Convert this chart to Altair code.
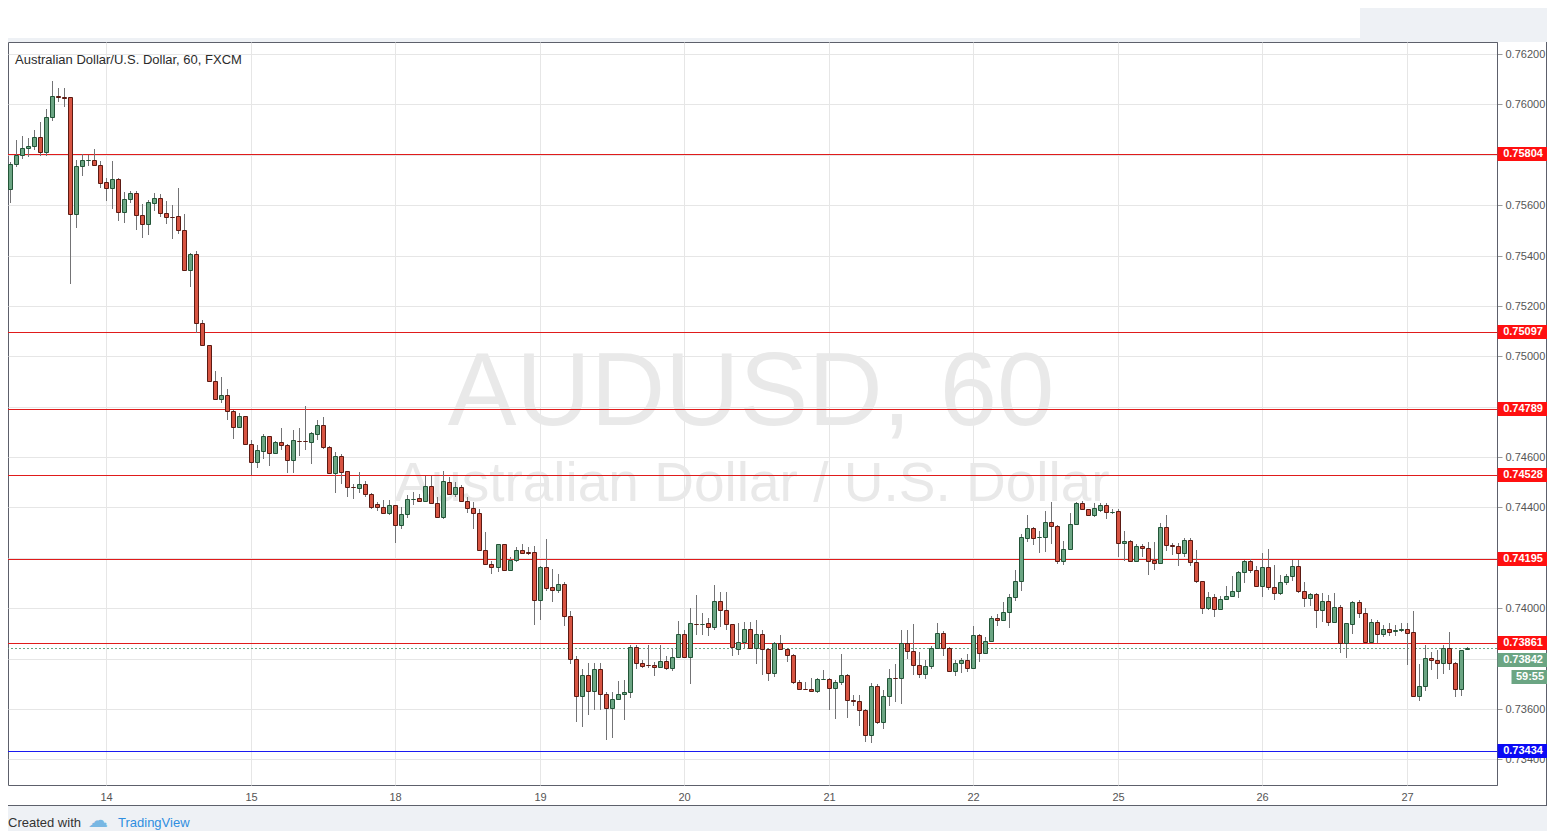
import altair as alt
import pandas as pd

# ---- hourly candles (prices in pips, i.e. price * 10000) ----
OPEN = [7566.6,7576.3,7580.1,7582.8,7583.4,7587.2,7581,7595.2,7603.3,7603,
        7602.8,7556.7,7575.7,7578,7578,7576,7569.3,7567,7570.3,7557.4,
        7562.3,7564.7,7556.3,7552.7,7561,7562.8,7557.1,7555.5,7555.8,7550.1,
        7534.3,7540.6,7513.1,7504.3,7490.2,7483.2,7484.8,7478.2,7472,7476.2,
        7465.3,7458.1,7462.4,7468.3,7461.6,7465.9,7464.6,7459,7466.5,7466.3,
        7465.9,7469.2,7472.9,7463.9,7453.8,7460.3,7454.3,7448.3,7447.9,7449.2,
        7445.5,7441.3,7440.3,7437.6,7440.8,7432.9,7437.2,7443.3,7443.7,7442.6,
        7448.4,7441.6,7436.1,7450.2,7445.2,7448,7442.7,7439.6,7437.6,7423.3,
        7417.7,7416.3,7425.4,7415.3,7419.3,7423.3,7422.2,7422.2,7403.3,7416.3,
        7408.4,7407.3,7409.7,7396.8,7380,7365,7373.5,7367.3,7375.8,7366,
        7360.3,7363.8,7365.8,7366.6,7384.5,7378.1,7377.4,7377.5,7376.8,7379.1,
        7376.2,7380.5,7389.7,7380.5,7393.8,7393.7,7394,7392.7,7402.9,7399.2,
        7393.6,7383.9,7386.5,7391.8,7384.3,7389.8,7383.9,7374.4,7386.3,7383.9,
        7381.6,7370.8,7367.9,7368,7367.1,7371.9,7371.9,7368.2,7370.6,7373.5,
        7363.7,7363.3,7359.7,7349.5,7369.2,7354.7,7365.3,7372.4,7372.3,7386.1,
        7383.1,7377.6,7374,7377.2,7384.2,7390.1,7384.2,7374.9,7378.2,7379.5,
        7376.2,7389.4,7382.2,7387.1,7396.3,7395.4,7398.3,7404.4,7410.8,7427.9,
        7431.8,7428.1,7428.2,7434.1,7432.8,7418.7,7423.6,7433.4,7441.7,7439.3,
        7437,7438.9,7441.1,7438.2,7438.4,7425.9,7426.6,7418.7,7424.6,7423.9,
        7419.2,7417.9,7432.4,7425.2,7424.5,7422.1,7427.2,7418.3,7410.6,7400,
        7404.4,7399.6,7403.6,7404.9,7406.9,7414.2,7418.8,7415.2,7409,7416.3,
        7408.6,7406,7410.3,7412.8,7416.8,7407,7404,7405.6,7399.1,7402.9,
        7394.7,7400.4,7386,7393.6,7402.4,7398,7386.7,7394.4,7389.6,7391.6,
        7391,7391.5,7391.6,7390.4,7365.1,7369.1,7380.4,7379.6,7378.3,7384,
        7378.4,7368,7383.6]
HIGH = [7577,7585.7,7587.3,7586.6,7590,7593,7598,7609.4,7606.4,7606.4,
        7603,7578,7580.3,7580,7582.4,7577.7,7571,7577.7,7571,7565.2,
        7565.5,7565.6,7560.3,7562,7565,7564.6,7561.7,7560,7566.7,7556.4,
        7541,7541.9,7514.5,7504.6,7494.2,7491.8,7487.1,7478.5,7477.5,7476.5,
        7466.9,7464.7,7469.3,7468.5,7466.4,7471.7,7465,7470.6,7471.7,7480.4,
        7469.9,7474.7,7476,7464.2,7462,7461.3,7454.6,7449.5,7454.1,7450.5,
        7445.7,7442.1,7442.9,7442.9,7441,7440.3,7445.1,7446.2,7445.5,7452.4,
        7452.4,7444.2,7454.5,7452.2,7450.2,7448.9,7444.3,7442,7439.2,7430.3,
        7418.7,7425.4,7425.6,7420.3,7424.3,7425.4,7424.3,7424.6,7416.6,7427.5,
        7415.7,7413.7,7410.4,7398.9,7381,7376,7378.1,7378.1,7378.1,7366.9,
        7366.6,7371.1,7371.5,7385.4,7385.2,7379.5,7385.2,7378.8,7385.2,7381.2,
        7384.1,7395,7391.4,7400,7405.3,7398,7396,7409.3,7406.6,7406.6,
        7393.8,7394,7394.6,7394.4,7395.3,7391.4,7384.2,7386.5,7389.2,7384.2,
        7381.8,7371.5,7370.8,7372.2,7372.2,7375.4,7372.2,7371.5,7381.7,7373.8,
        7365.6,7365.6,7360,7370.2,7369.9,7367.4,7375.8,7378,7391.4,7391.4,
        7393.8,7382.8,7379.5,7385.1,7394.3,7390.8,7384.5,7379.3,7380.2,7381.9,
        7393,7389.6,7388.5,7397,7397.8,7402.6,7405.7,7415.2,7429.4,7437.1,
        7432.4,7430.8,7438.7,7442,7433,7426.8,7437.6,7442,7442.6,7439.4,
        7441.6,7441.6,7441.6,7439.3,7439.3,7430.8,7427,7425.5,7425.5,7426.2,
        7426.2,7433.7,7437.1,7426,7425.8,7428,7428,7423.2,7410.8,7406.6,
        7405.7,7404.9,7408.9,7412.6,7414.6,7419.2,7419.5,7416.6,7421.9,7423.4,
        7417.2,7413.2,7413.6,7419.2,7419.2,7410.3,7406.2,7406,7406,7405.3,
        7406,7401.3,7394.3,7402.7,7403.3,7400,7395.6,7395.3,7393.3,7394,
        7393.3,7394,7394.3,7398.7,7377.7,7385.3,7382.7,7383.3,7385.3,7390.7,
        7378.7,7383.5,7384.5]
LOW = [7561,7575,7578.3,7579,7582,7579.7,7579.7,7593.3,7600.8,7599,
       7528.9,7551,7571.7,7575.7,7575.7,7567,7561.6,7558.6,7553.6,7553,
       7561,7550.3,7547,7548.3,7557.6,7555.4,7552.7,7546.5,7548.5,7534,
       7527.4,7509.2,7504,7489.8,7483,7481.5,7474.9,7467.3,7471.7,7465,
       7452.8,7455.8,7459.4,7456.4,7461.4,7462.7,7453.5,7453.7,7460.4,7462.7,
       7457.4,7466.8,7463.3,7453.7,7445.8,7449.2,7444.2,7443.4,7445.8,7444.2,
       7439.2,7438.7,7437.4,7437,7426,7431.4,7435.7,7440.9,7442.2,7442.2,
       7441.3,7435.7,7435.3,7444.9,7444,7442.3,7437.6,7431.4,7423,7417.4,
       7413.7,7414.4,7415,7415,7418.3,7421.9,7421,7393.5,7395.5,7407,
       7402.4,7406,7393.1,7378,7355,7353,7357.6,7359.6,7359.6,7347.7,
       7348.3,7363.6,7355.6,7364.5,7375.8,7376.2,7376.2,7373.2,7376.4,7375.5,
       7375.1,7380.4,7380.3,7369.8,7389.4,7389.4,7389.1,7391.4,7392.7,7391.4,
       7381.2,7381.3,7384.2,7383.9,7377.8,7373.5,7371.2,7372.5,7383.5,7378.7,
       7369.9,7367.6,7367.6,7366.9,7366.5,7371.5,7359.5,7356.1,7369.5,7356.5,
       7361,7353.2,7346.7,7346.4,7353.9,7352.1,7361.3,7362.6,7362.1,7379.8,
       7373.6,7372.3,7371.9,7375.8,7384.2,7380.9,7374.6,7373.2,7374.3,7374.5,
       7376,7378.5,7381.9,7386.8,7393,7395.1,7392.3,7403,7407,7426.2,
       7424.9,7421.8,7422.2,7425.5,7417.6,7417,7423.2,7433.4,7439,7436.7,
       7436.1,7438,7435.4,7437.4,7420.3,7418.9,7418.4,7418.3,7420.5,7413,
       7415.3,7417.6,7422.9,7421.2,7416.6,7420.5,7416.6,7410.2,7397.7,7399.3,
       7396.7,7399.1,7403.3,7404.6,7404,7410.2,7413.9,7408.6,7404.6,7407.3,
       7403.3,7405.3,7409.3,7410.6,7406.2,7400.3,7400.7,7392,7394.7,7392.9,
       7394.5,7382.3,7380.3,7389.6,7396,7386,7386.4,7386,7388.5,7388.9,
       7388.9,7390.7,7377.3,7364.9,7363.3,7367.3,7375.3,7372,7374,7375.3,
       7364.7,7365.3,7383.3]
CLOSE = [7576.3,7580.1,7582.8,7583.7,7587.2,7581,7595.2,7603.2,7603.1,7602.5,
         7556.7,7575.7,7578,7578.1,7576,7569,7567,7570.3,7557.4,7562.3,
         7564.7,7556.3,7552.7,7561.2,7562.7,7557.1,7555.4,7555.3,7550.1,7534.3,
         7540.6,7513.1,7504.3,7490.2,7483.2,7484.8,7478.2,7472,7476.2,7465.3,
         7458.1,7462.7,7468.3,7461.6,7466,7464.6,7459,7466.7,7466.2,7466.2,
         7469.5,7472.9,7463.9,7453.8,7460.3,7454.1,7448.2,7448.1,7449.2,7445.5,
         7440.3,7440.3,7437.6,7440.8,7432.9,7437.4,7443.3,7443.5,7442.6,7448.4,
         7441.6,7436.1,7450.4,7445.2,7448,7442.7,7439.6,7437.6,7423.3,7417.7,
         7416.3,7425.4,7415.3,7419.3,7423.3,7422.1,7422.1,7403.3,7416.3,7408.1,
         7407.3,7409.7,7396.8,7380,7365,7373.5,7367.3,7375.8,7365.8,7360.3,
         7363.8,7366,7366.6,7384.5,7378.1,7377.2,7377.3,7376.8,7379.1,7376.2,
         7380.5,7389.7,7380.5,7394,7393.7,7393.8,7392.7,7402.9,7399.2,7393.6,
         7384.4,7386.5,7391.8,7384.3,7389.8,7383.9,7374.4,7386.3,7383.9,7381.6,
         7370.8,7367.8,7367.8,7367.1,7371.9,7372,7368.2,7370.6,7373.5,7363.7,
         7363,7359.7,7349.5,7369.2,7354.8,7365.3,7372.3,7372.2,7386.1,7383.1,
         7377.6,7374,7377.2,7384.2,7390.1,7384.2,7374.9,7378.2,7379.5,7376.2,
         7389.4,7382.2,7387.1,7396,7395.4,7398.3,7404.4,7410.8,7428.1,7431.8,
         7427.9,7428.2,7434.1,7432.5,7418.7,7423.6,7433.4,7441.6,7439.3,7437,
         7439.7,7441.1,7438,7438.3,7425.9,7426.6,7418.7,7424.6,7423.9,7418.7,
         7417.9,7432.4,7424.9,7424.5,7422.1,7427.2,7418.3,7410.6,7400,7404.4,
         7399.6,7403.6,7404.9,7406.9,7414.2,7418.8,7415.2,7409,7416.3,7408.6,
         7406,7410.3,7412.8,7416.8,7407,7404,7405.6,7399.2,7402.9,7394.7,
         7400.4,7386,7394,7402.4,7398,7386.7,7394.4,7389.6,7391.6,7390.7,
         7391.2,7391.6,7390.3,7365.1,7369.1,7380.4,7379.6,7378.3,7384,7378.3,
         7368,7383.3,7384.2]

DAY_TICKS = [16, 40, 64, 88, 112, 136, 160, 184, 208, 232]
DAY_LABELS = ["14", "15", "18", "19", "20", "21", "22", "25", "26", "27"]
PRICE_TICKS = [0.734, 0.736, 0.738, 0.740, 0.742, 0.744, 0.746, 0.748,
               0.750, 0.752, 0.754, 0.756, 0.758, 0.760, 0.762]
RESIST = [0.75804, 0.75097, 0.74789, 0.74528, 0.74195, 0.73861]
SUPPORT = [0.73434]
LAST = [0.73842]
COUNTDOWN = ["59:55"]
TITLE = "Australian Dollar/U.S. Dollar, 60, FXCM"
WATERMARK = "AUDUSD, 60"
WATERMARK_SUB = "Australian Dollar / U.S. Dollar"

# ---- styling ----
W, H = 1489, 743
UP_FILL, DN_FILL = "#6ba583", "#d75442"
UP_EDGE, DN_EDGE = "#225437", "#5b1a13"
WICK = "#737375"
GRID = "#e6e6e6"
FONT = "Liberation Sans"
PAGE_BG = "#eef1f5"
LEVEL_RED = "#e01b1b"

n = len(OPEN)
df = pd.DataFrame({
    "i": list(range(n)),
    "open": [v / 10000 for v in OPEN],
    "high": [v / 10000 for v in HIGH],
    "low": [v / 10000 for v in LOW],
    "close": [v / 10000 for v in CLOSE],
})
df["dir"] = ["up" if c >= o else "down" for o, c in zip(df["open"], df["close"])]
df["blo"] = df[["open", "close"]].min(axis=1)
df["bhi"] = df[["open", "close"]].max(axis=1)

xs = alt.Scale(domain=[-0.3, 247.0], nice=False, zero=False, round=True, padding=0)
ys = alt.Scale(domain=[0.73298, 0.76248], nice=False, zero=False, round=True, padding=0)

label_expr = "[" + ",".join("'%s'" % s for s in DAY_LABELS) + "][indexof([" + \
    ",".join(str(t) for t in DAY_TICKS) + "], datum.value)]"

x_axis = alt.Axis(values=DAY_TICKS, labelExpr=label_expr, grid=True, gridColor=GRID,
                  domain=False, ticks=False, labelPadding=6, labelFontSize=11,
                  labelColor="#555555", labelFont=FONT, title=None)
y_axis = alt.Axis(orient="right", values=PRICE_TICKS, format=".5f", grid=True,
                  gridColor=GRID, domain=True, domainColor="#5d606b", tickColor="#9a9a9a",
                  tickSize=5, labelPadding=3, labelFontSize=11, labelColor="#555555",
                  labelFont=FONT, title=None)

X = alt.X("i:Q", scale=xs, axis=x_axis)

dir_fill = alt.Fill("dir:N", scale=alt.Scale(domain=["up", "down"], range=[UP_FILL, DN_FILL]), legend=None)
dir_stroke = alt.Stroke("dir:N", scale=alt.Scale(domain=["up", "down"], range=[UP_EDGE, DN_EDGE]), legend=None)

one = pd.DataFrame({"t": [""]})

# gray page regions outside the white chart panel
gray_footer = alt.Chart(one).mark_rect(color=PAGE_BG).encode(
    x=alt.value(0), x2=alt.value(W + 50), y=alt.value(H + 21), y2=alt.value(H + 60))
gray_gap = alt.Chart(one).mark_rect(color=PAGE_BG).encode(
    x=alt.value(0), x2=alt.value(W + 50), y=alt.value(-4), y2=alt.value(0))
gray_topright = alt.Chart(one).mark_rect(color=PAGE_BG).encode(
    x=alt.value(1352), x2=alt.value(W + 50), y=alt.value(-40), y2=alt.value(0))
panel_bottom = alt.Chart(one).mark_rule(color="#5d606b", strokeWidth=1).encode(
    x=alt.value(0), x2=alt.value(W + 50), y=alt.value(H + 20.5))
panel_right = alt.Chart(one).mark_rule(color="#5d606b", strokeWidth=1).encode(
    x=alt.value(W + 49.5), y=alt.value(0), y2=alt.value(H + 21))

watermark = alt.Chart(pd.DataFrame({"t": [WATERMARK]})).mark_text(
    font=FONT, fontSize=103, color="#e9e9e9", align="center", baseline="alphabetic"
).encode(x=alt.value(743), y=alt.value(383), text="t:N")
watermark_sub = alt.Chart(pd.DataFrame({"t": [WATERMARK_SUB]})).mark_text(
    font=FONT, fontSize=55, color="#e9e9e9", align="center", baseline="alphabetic"
).encode(x=alt.value(744), y=alt.value(459), text="t:N")

wicks = alt.Chart(df).mark_rule(color=WICK, strokeWidth=1, clip=True, xOffset=0.5).encode(
    x=X, y=alt.Y("low:Q", scale=ys, axis=y_axis), y2="high:Q")
bodies = alt.Chart(df).mark_bar(width=4, strokeWidth=1, clip=True, xOffset=0.5,
                                yOffset=0.5, y2Offset=0.5, opacity=1).encode(
    x=X, y=alt.Y("blo:Q", scale=ys, axis=y_axis), y2="bhi:Q", fill=dir_fill, stroke=dir_stroke)

res_lines = alt.Chart(pd.DataFrame({"p": RESIST})).mark_rule(
    color=LEVEL_RED, strokeWidth=1, yOffset=0.5).encode(y=alt.Y("p:Q", scale=ys, axis=y_axis))
sup_lines = alt.Chart(pd.DataFrame({"p": SUPPORT})).mark_rule(
    color="#1a1af0", strokeWidth=1, yOffset=0.5).encode(y=alt.Y("p:Q", scale=ys, axis=y_axis))
last_line = alt.Chart(pd.DataFrame({"p": LAST})).mark_rule(
    color=UP_FILL, strokeWidth=1, strokeDash=[2, 2], yOffset=0.5).encode(
    y=alt.Y("p:Q", scale=ys, axis=y_axis))

def price_tag(values, bg, shift=0, fg="white"):
    d = pd.DataFrame({"p": values})
    box = alt.Chart(d).mark_tick(orient="horizontal", size=51, thickness=14, color=bg,
                                 opacity=1, yOffset=shift).encode(
        x=alt.value(W + 26), y=alt.Y("p:Q", scale=ys, axis=y_axis))
    txt = alt.Chart(d).mark_text(font=FONT, fontSize=11, fontWeight="bold", color=fg,
                                 align="center", baseline="middle", dy=shift).encode(
        x=alt.value(W + 26), y=alt.Y("p:Q", scale=ys, axis=y_axis),
        text=alt.Text("p:Q", format=".5f"))
    return box + txt

tags = (price_tag(RESIST, "#ff1010") + price_tag(SUPPORT, "#0a0af5")
        + price_tag(LAST, UP_FILL, shift=12))

cd = pd.DataFrame({"p": LAST, "t": COUNTDOWN})
cd_box = alt.Chart(cd).mark_tick(orient="horizontal", size=37, thickness=14, color=UP_FILL,
                                 opacity=1, yOffset=29).encode(
    x=alt.value(W + 33), y=alt.Y("p:Q", scale=ys, axis=y_axis))
cd_txt = alt.Chart(cd).mark_text(font=FONT, fontSize=11, fontWeight="bold", color="white",
                                 align="center", baseline="middle", dy=29).encode(
    x=alt.value(W + 33), y=alt.Y("p:Q", scale=ys, axis=y_axis), text="t:N")

title = alt.Chart(pd.DataFrame({"t": [TITLE]})).mark_text(
    font=FONT, fontSize=13, color="#2b2b2b", align="left", baseline="middle"
).encode(x=alt.value(7), y=alt.value(18), text="t:N")

footer1 = alt.Chart(pd.DataFrame({"t": ["Created with"]})).mark_text(
    font=FONT, fontSize=13, color="#333333", align="left", baseline="middle"
).encode(x=alt.value(0), y=alt.value(H + 38), text="t:N")
footer_logo = alt.Chart(pd.DataFrame({"t": ["\u2601"]})).mark_text(
    font="DejaVu Sans", fontSize=20, color="#78b7e3", align="left", baseline="middle"
).encode(x=alt.value(80), y=alt.value(H + 36), text="t:N")
footer2 = alt.Chart(pd.DataFrame({"t": ["TradingView"]})).mark_text(
    font=FONT, fontSize=13, color="#2f8ee0", align="left", baseline="middle"
).encode(x=alt.value(110), y=alt.value(H + 38), text="t:N")

chart = alt.layer(
    gray_footer, gray_gap, gray_topright, panel_bottom, panel_right,
    watermark, watermark_sub,
    res_lines, sup_lines, last_line,
    wicks, bodies,
    tags, cd_box, cd_txt, title, footer1, footer_logo, footer2,
).properties(
    width=W, height=H,
    autosize=alt.AutoSizeParams(type="none"),
    padding={"left": 0, "top": 34, "right": 50, "bottom": 46},
    background="#ffffff",
).configure_view(
    fill="#ffffff", stroke="#5d606b", strokeWidth=1
)

chart.save("out.html", embed_options={"renderer": "svg", "actions": False})
